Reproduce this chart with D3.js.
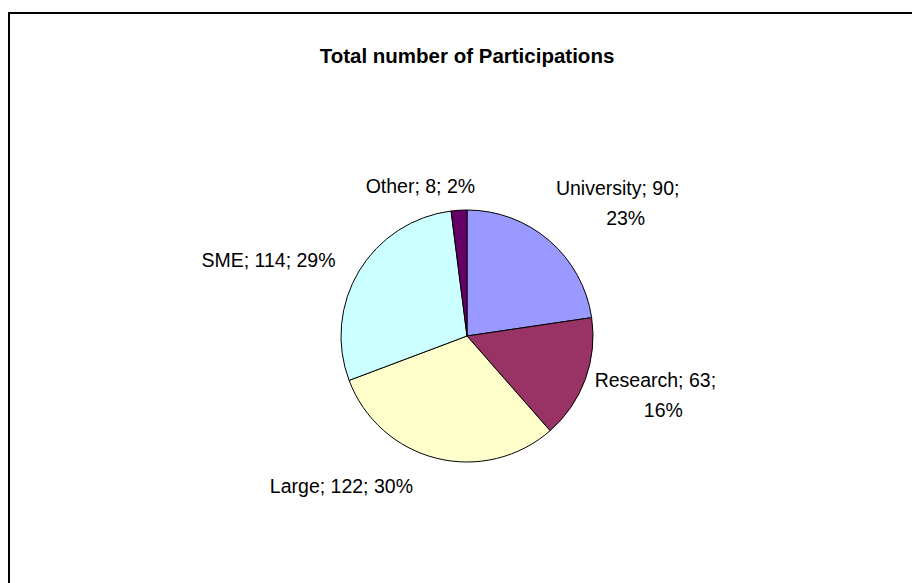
<!DOCTYPE html>
<html>
<head>
<meta charset="utf-8">
<script src="https://cdn.jsdelivr.net/npm/d3@7/dist/d3.min.js"></script>
<style>
  html, body { margin: 0; padding: 0; background: #fff; }
  svg { display: block; }
  text { font-family: "Liberation Sans", Arial, sans-serif; fill: #000; }
</style>
</head>
<body>
<svg id="chart" width="912" height="583"></svg>
<script>
const categories = ["University", "Research", "Large", "SME", "Other"];
const values = [90, 63, 122, 114, 8];
const percents = ["23%", "16%", "30%", "29%", "2%"];
const colors = ["#9999FF", "#993366", "#FFFFCC", "#CCFFFF", "#660066"];
// label lines (Excel wraps some labels onto two lines)
const labelLines = [
  ["University; 90;", "23%"],
  ["Research; 63;", "16%"],
  ["Large; 122; 30%"],
  ["SME; 114; 29%"],
  ["Other; 8; 2%"]
];
const title = "Total number of Participations";

const svg = d3.select("#chart");

// outer border
svg.append("rect")
  .attr("x", 9).attr("y", 13)
  .attr("width", 940).attr("height", 600)
  .attr("fill", "none").attr("stroke", "#000").attr("stroke-width", 2);

svg.append("text")
  .attr("x", 467).attr("y", 63)
  .attr("text-anchor", "middle")
  .attr("font-weight", "bold")
  .attr("font-size", 20.5)
  .text(title);

const cx = 467, cy = 336, r = 126;
const g = svg.append("g").attr("transform", `translate(${cx},${cy})`);

const data = categories.map((c, i) => ({ name: c, value: values[i], pct: percents[i], color: colors[i], lines: labelLines[i] }));
const pie = d3.pie().value(d => d.value).sort(null);
const arcs = pie(data);
const arc = d3.arc().innerRadius(0).outerRadius(r);

g.selectAll("path").data(arcs).join("path")
  .attr("d", arc)
  .attr("fill", d => d.data.color)
  .attr("stroke", "#000")
  .attr("stroke-width", 1);

// small layout adjustments to mimic the spreadsheet's label placement
const labelNudge = [[0, -4], [0, -14], [-21, 7], [-15, 5], [-38, -3]];

const fs = 19.5, lh = 30, gap = 10, wrapShift = 8;
arcs.forEach((a, i) => {
  const mid = (a.startAngle + a.endAngle) / 2;
  const sx = Math.sin(mid), cyv = -Math.cos(mid);
  const px = (r + gap) * sx, py = (r + gap) * cyv;
  const lines = a.data.lines;
  const t = g.append("text").attr("font-size", fs).attr("text-anchor", "middle");
  lines.forEach((l, k) => t.append("tspan").attr("x", k === 0 ? 0 : wrapShift).attr("dy", k === 0 ? 0 : lh).text(l));
  const bb = t.node().getBBox();
  let bx, by;
  if (sx > 0.15) bx = px; else if (sx < -0.15) bx = px - bb.width; else bx = px - bb.width / 2;
  if (cyv > 0.15) by = py; else if (cyv < -0.15) by = py - bb.height; else by = py - bb.height / 2;
  bx += labelNudge[i][0];
  by += labelNudge[i][1];
  t.attr("transform", `translate(${bx - bb.x},${by - bb.y})`);
});
</script>
</body>
</html>
